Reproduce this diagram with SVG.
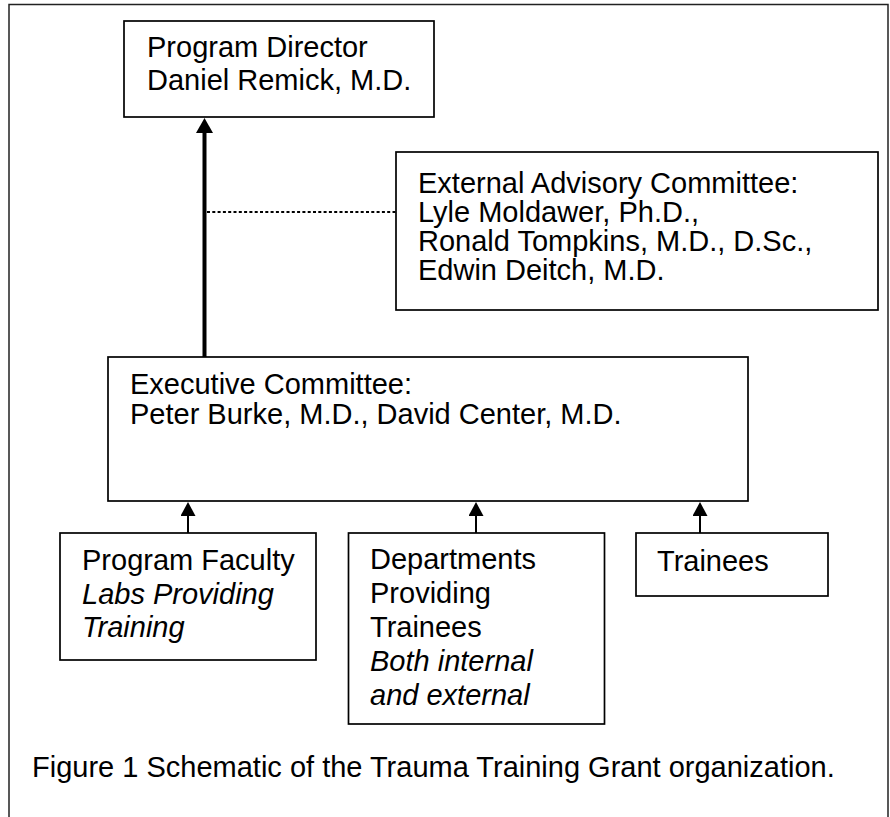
<svg xmlns="http://www.w3.org/2000/svg" width="890" height="817" viewBox="0 0 890 817">
<style>
  .box { fill: #fff; stroke: #000; stroke-width: 1.7; }
  .t { font-family: "Liberation Sans", Arial, sans-serif; font-size: 29px; fill: #000; }
  .i { font-style: italic; }
  .thick { stroke: #000; stroke-width: 4; fill: none; }
  .thin { stroke: #000; stroke-width: 2; fill: none; }
  .dot { stroke: #000; stroke-width: 2.2; stroke-dasharray: 3 2.3; fill: none; }
</style>
<defs>
  <marker id="bigArrow" markerUnits="userSpaceOnUse" markerWidth="15" markerHeight="17" viewBox="0 0 15 17" refX="0" refY="8.5" orient="auto">
    <path d="M0,0 L15,8.5 L0,17 z" fill="#000"/>
  </marker>
  <marker id="smallArrow" markerUnits="userSpaceOnUse" markerWidth="14" markerHeight="15" viewBox="0 0 14 15" refX="0" refY="7.5" orient="auto">
    <path d="M0,0 L14,7.5 L0,15 z" fill="#000"/>
  </marker>
</defs>
<rect width="890" height="817" fill="#fff"/>
<path d="M9,817 V4.5 H888 V817" fill="none" stroke="#222" stroke-width="1.5"/>

<g id="connectors">
  <line class="thick" x1="204.5" y1="357" x2="204.5" y2="133" marker-end="url(#bigArrow)"/>
  <line class="dot" x1="207" y1="212" x2="396" y2="212"/>
  <line class="thin" x1="188" y1="533" x2="188" y2="516" marker-end="url(#smallArrow)"/>
  <line class="thin" x1="476" y1="533" x2="476" y2="516" marker-end="url(#smallArrow)"/>
  <line class="thin" x1="700" y1="533" x2="700" y2="516" marker-end="url(#smallArrow)"/>
</g>

<g id="program-director">
  <rect class="box" x="124" y="21" width="310" height="96"/>
  <text class="t" x="147" y="57">Program Director</text>
  <text class="t" x="147" y="90">Daniel Remick, M.D.</text>
</g>

<g id="external-advisory-committee">
  <rect class="box" x="396" y="152" width="482" height="158"/>
  <text class="t" x="418" y="193">External Advisory Committee:</text>
  <text class="t" x="418" y="222">Lyle Moldawer, Ph.D.,</text>
  <text class="t" x="418" y="251">Ronald Tompkins, M.D., D.Sc.,</text>
  <text class="t" x="418" y="280">Edwin Deitch, M.D.</text>
</g>

<g id="executive-committee">
  <rect class="box" x="108" y="357" width="640" height="144"/>
  <text class="t" x="130" y="394">Executive Committee:</text>
  <text class="t" x="130" y="424">Peter Burke, M.D., David Center, M.D.</text>
</g>

<g id="program-faculty">
  <rect class="box" x="60" y="533" width="256" height="127"/>
  <text class="t" x="82" y="570">Program Faculty</text>
  <text class="t i" x="82" y="604">Labs Providing</text>
  <text class="t i" x="82" y="637">Training</text>
</g>

<g id="departments">
  <rect class="box" x="348.5" y="533" width="256" height="191"/>
  <text class="t" x="370" y="569">Departments</text>
  <text class="t" x="370" y="603">Providing</text>
  <text class="t" x="370" y="637">Trainees</text>
  <text class="t i" x="370" y="671">Both internal</text>
  <text class="t i" x="370" y="705">and external</text>
</g>

<g id="trainees">
  <rect class="box" x="636" y="533" width="192" height="63"/>
  <text class="t" x="657" y="571">Trainees</text>
</g>

<g id="caption">
  <text class="t" x="32" y="777">Figure 1 Schematic of the Trauma Training Grant organization.</text>
</g>
</svg>
